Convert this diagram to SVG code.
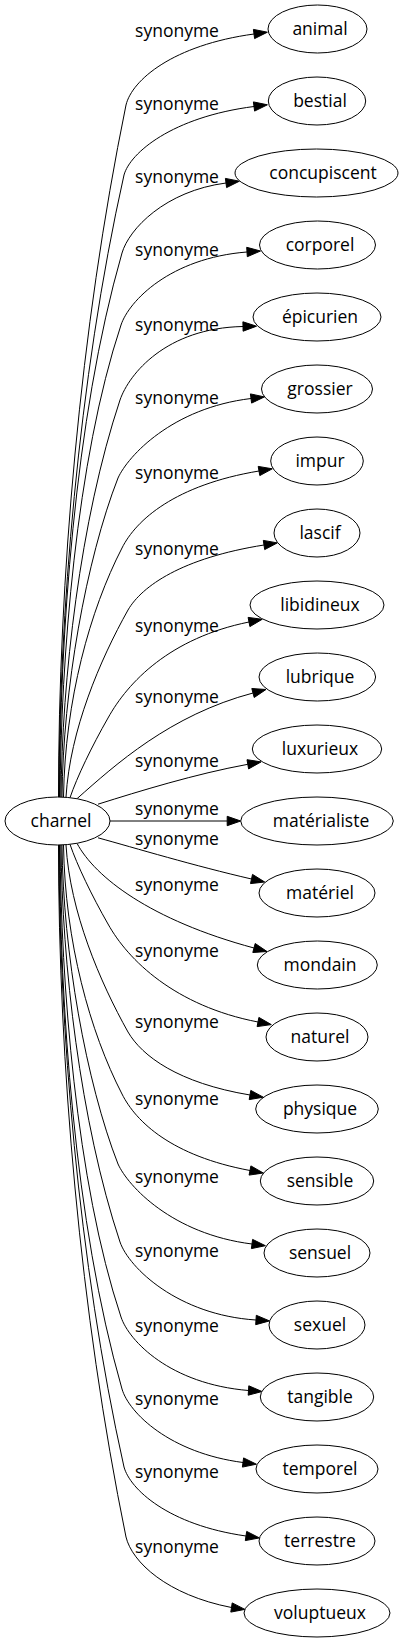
<svg xmlns="http://www.w3.org/2000/svg" width="404" height="1643" viewBox="0 0 404 1643">
<style>
text{font-family:"Open Sans","Noto Sans","Liberation Sans",sans-serif;font-size:17.5px;fill:#000}
.n text{text-anchor:middle}
.n ellipse{fill:#fff;stroke:#000;stroke-width:1}
.e path{fill:none;stroke:#000;stroke-width:1}
.e polygon{fill:#000;stroke:#000;stroke-width:1}
.l text{text-anchor:middle}
</style>
<rect width="404" height="1643" fill="#fff"/>
<g id="edges" class="e">
<path d="M58.5,797 C58.5,580 80,330 126,105 C132,80 173,45 254,34"/><polygon points="254.6,38.6 267.4,32.2 253.4,29.4"/>
<path d="M59,797 C59,620 78,380 124,175 C130,153 172,117 254,106.5"/><polygon points="254.6,111.1 267.4,104.8 253.4,101.9"/>
<path d="M59.5,797 C60,640 74,420 122,253 C129,229 165,191 226,183"/><polygon points="226.6,187.6 239.4,181.2 225.4,178.4"/>
<path d="M60,797 C61,660 76,460 121,325 C129,301 170,258 247,252"/><polygon points="247.3,256.7 260.5,251 246.7,247.3"/>
<path d="M61,797 C62,680 80,520 120,400 C129,374 166,328 243,326.5"/><polygon points="243.1,331.2 256.5,326.2 242.9,321.8"/>
<path d="M62,797 C63,690 86,560 118,478 C128,456 172,408 251,398.5"/><polygon points="251.6,403.1 264.4,396.9 250.4,393.9"/>
<path d="M63.5,797 C65,700 90,610 122,548 C136,520 175,485 259,471"/><polygon points="259.8,475.6 272.3,468.8 258.2,466.4"/>
<path d="M66,797 C70,730 100,660 128,610 C142,586 182,558 264,545"/><polygon points="264.7,549.6 277.3,542.9 263.3,540.4"/>
<path d="M70,797.7 C77,777 92,746 108,718 C128,682 170,638 249,622"/><polygon points="249.9,626.6 262.2,619.3 248.1,617.4"/>
<path d="M77,798.7 C115,765 170,715 253,693"/><polygon points="254.2,697.5 266,689.5 251.8,688.5"/>
<path d="M98,804.2 C140,791 195,774 247.8,764.3"/><polygon points="248.6,768.9 261.1,761.9 247,759.7"/>
<path d="M110,821 L227.2,821"/><polygon points="227.2,825.7 240.7,821 227.2,816.3"/>
<path d="M98,837.8 C135,848 195,866 251.5,879"/><polygon points="250.5,883.6 264.7,882 252.5,874.4"/>
<path d="M77,843.3 C95,877 150,920 254,948"/><polygon points="252.8,952.5 267,951.5 255.2,943.5"/>
<path d="M70,844.3 C77,865 92,896 108,924 C128,960 175,1006 258,1022"/><polygon points="257.1,1026.6 271.3,1024.6 258.9,1017.4"/>
<path d="M66,845 C70,912 100,982 128,1032 C142,1056 178,1083 250,1095"/><polygon points="249.2,1099.6 263.3,1097.2 250.8,1090.4"/>
<path d="M63.5,845 C65,942 90,1032 122,1094 C136,1122 172,1156 250,1170.5"/><polygon points="249.1,1175.1 263.3,1173 250.9,1165.9"/>
<path d="M62,845 C63,952 86,1082 118,1164 C128,1186 172,1234 252,1244"/><polygon points="251.4,1248.6 265.4,1245.7 252.6,1239.4"/>
<path d="M61,845 C62,962 80,1122 120,1242 C129,1268 178,1315 256,1320"/><polygon points="255.7,1324.7 269.5,1320.9 256.3,1315.3"/>
<path d="M60,845 C61,982 76,1182 121,1317 C129,1341 170,1384 248.5,1390.5"/><polygon points="248.2,1395.2 262,1391.5 248.8,1385.8"/>
<path d="M59.5,845 C60,1002 74,1222 122,1389 C129,1413 170,1453 243,1462.5"/><polygon points="242.4,1467.1 256.4,1464.2 243.6,1457.9"/>
<path d="M59,845 C59,1022 78,1262 124,1467 C130,1489 168,1525 246,1536"/><polygon points="245.3,1540.6 259.4,1537.9 246.7,1531.4"/>
<path d="M58.5,845 C58.5,1062 80,1312 126,1537 C132,1562 167,1595 231.5,1607.5"/><polygon points="230.8,1612.1 244.9,1609.4 232.2,1602.9"/>
</g>
<g id="labels" class="l">
<text x="177" y="37">synonyme</text>
<text x="177" y="110">synonyme</text>
<text x="177" y="183">synonyme</text>
<text x="177" y="256">synonyme</text>
<text x="177" y="331">synonyme</text>
<text x="177" y="404">synonyme</text>
<text x="177" y="479">synonyme</text>
<text x="177" y="555">synonyme</text>
<text x="177" y="632">synonyme</text>
<text x="177" y="703">synonyme</text>
<text x="177" y="767">synonyme</text>
<text x="177" y="815">synonyme</text>
<text x="177" y="845">synonyme</text>
<text x="177" y="891">synonyme</text>
<text x="177" y="957">synonyme</text>
<text x="177" y="1028">synonyme</text>
<text x="177" y="1105">synonyme</text>
<text x="177" y="1183">synonyme</text>
<text x="177" y="1257">synonyme</text>
<text x="177" y="1332">synonyme</text>
<text x="177" y="1405">synonyme</text>
<text x="177" y="1478">synonyme</text>
<text x="177" y="1553">synonyme</text>
</g>
<g id="node-charnel" class="n"><ellipse cx="57.5" cy="821" rx="52.5" ry="24"/><text x="61" y="827">charnel</text></g>
<g id="node-animal" class="n"><ellipse cx="317.5" cy="29" rx="49.5" ry="24"/><text x="320" y="35">animal</text></g>
<g id="node-bestial" class="n"><ellipse cx="317" cy="101" rx="48.7" ry="24"/><text x="320" y="107">bestial</text></g>
<g id="node-concupiscent" class="n"><ellipse cx="316.5" cy="173" rx="81.5" ry="24"/><text x="323" y="179">concupiscent</text></g>
<g id="node-corporel" class="n"><ellipse cx="317.5" cy="245" rx="58" ry="24"/><text x="320" y="251">corporel</text></g>
<g id="node-epicurien" class="n"><ellipse cx="317" cy="317" rx="64" ry="24"/><text x="320" y="323">épicurien</text></g>
<g id="node-grossier" class="n"><ellipse cx="317" cy="389" rx="55.5" ry="24"/><text x="320" y="395">grossier</text></g>
<g id="node-impur" class="n"><ellipse cx="317" cy="461" rx="46.3" ry="24"/><text x="320" y="467">impur</text></g>
<g id="node-lascif" class="n"><ellipse cx="317" cy="533" rx="43" ry="24"/><text x="320" y="539">lascif</text></g>
<g id="node-libidineux" class="n"><ellipse cx="317" cy="605" rx="67" ry="24"/><text x="320" y="611">libidineux</text></g>
<g id="node-lubrique" class="n"><ellipse cx="317.3" cy="677" rx="58.3" ry="24"/><text x="320" y="683">lubrique</text></g>
<g id="node-luxurieux" class="n"><ellipse cx="317" cy="749" rx="64.7" ry="24"/><text x="320" y="755">luxurieux</text></g>
<g id="node-materialiste" class="n"><ellipse cx="317" cy="821" rx="76.3" ry="24"/><text x="321" y="827">matérialiste</text></g>
<g id="node-materiel" class="n"><ellipse cx="317" cy="893" rx="58" ry="24"/><text x="320" y="899">matériel</text></g>
<g id="node-mondain" class="n"><ellipse cx="317.3" cy="965" rx="60" ry="24"/><text x="320" y="971">mondain</text></g>
<g id="node-naturel" class="n"><ellipse cx="317" cy="1037" rx="51" ry="24"/><text x="320" y="1043">naturel</text></g>
<g id="node-physique" class="n"><ellipse cx="317" cy="1109" rx="61.3" ry="24"/><text x="320" y="1115">physique</text></g>
<g id="node-sensible" class="n"><ellipse cx="317" cy="1181" rx="56.7" ry="24"/><text x="320" y="1187">sensible</text></g>
<g id="node-sensuel" class="n"><ellipse cx="317" cy="1253" rx="53" ry="24"/><text x="320" y="1259">sensuel</text></g>
<g id="node-sexuel" class="n"><ellipse cx="317" cy="1325" rx="48" ry="24"/><text x="320" y="1331">sexuel</text></g>
<g id="node-tangible" class="n"><ellipse cx="317" cy="1397" rx="56.7" ry="24"/><text x="320" y="1403">tangible</text></g>
<g id="node-temporel" class="n"><ellipse cx="317" cy="1469" rx="61" ry="24"/><text x="320" y="1475">temporel</text></g>
<g id="node-terrestre" class="n"><ellipse cx="317" cy="1541" rx="58" ry="24"/><text x="320" y="1547">terrestre</text></g>
<g id="node-voluptueux" class="n"><ellipse cx="317" cy="1613" rx="73" ry="24"/><text x="320" y="1619">voluptueux</text></g>
</svg>
